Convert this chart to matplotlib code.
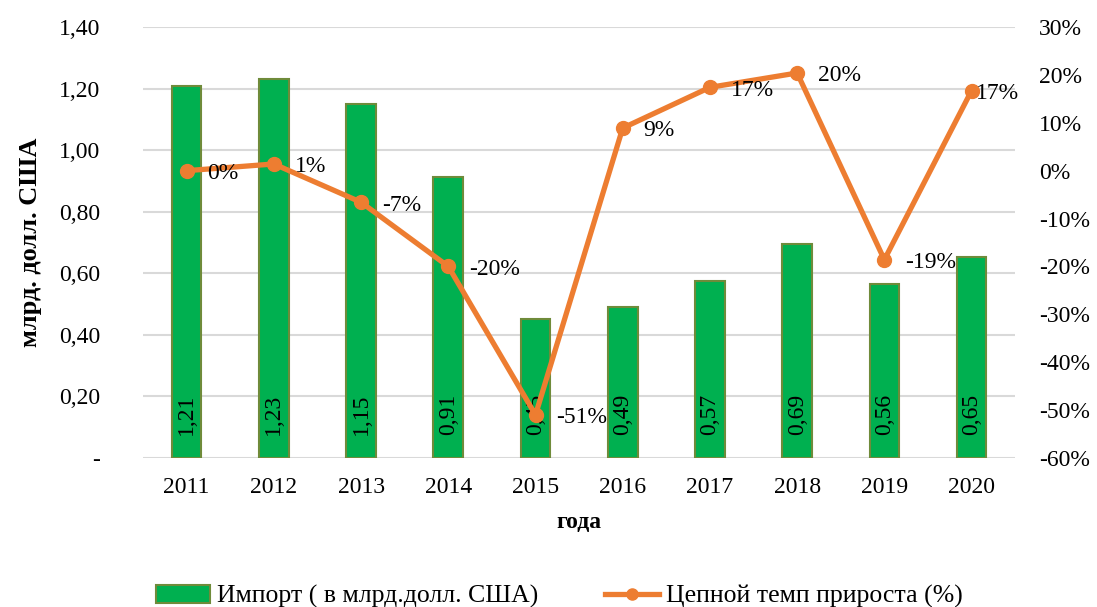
import matplotlib.pyplot as plt
import numpy as np
from matplotlib.patches import Patch
from matplotlib.lines import Line2D
from matplotlib.ticker import FuncFormatter, MultipleLocator

plt.rcParams['font.family'] = ['Liberation Serif', 'DejaVu Serif']

# Data
years = ["2011", "2012", "2013", "2014", "2015", "2016", "2017", "2018", "2019", "2020"]
imports = [1.21, 1.23, 1.15, 0.914, 0.45, 0.49, 0.574, 0.694, 0.564, 0.654]   # млрд. долл. США
growth = [0.0, 1.4, -6.6, -20.0, -51.0, 8.9, 17.4, 20.4, -18.6, 16.7]          # %

bar_color = "#00b050"
bar_edge = "#6f8b3a"
line_color = "#ed7d31"
grid_color = "#d9d9d9"
FS = 17

fig = plt.figure(figsize=(10.97, 6.07), dpi=100)
ax = fig.add_axes([0.1304, 0.2455, 0.795, 0.71])
ax2 = ax.twinx()

x = np.arange(len(years))

# Bars
ax.bar(x, imports, width=0.34, color=bar_color, edgecolor=bar_edge, linewidth=1.5, zorder=2)
for xi, v in zip(x, imports):
    ax.text(xi, 0.075, f"{v:.2f}".replace(".", ","), rotation=90, ha='center', va='bottom',
            fontsize=FS, color='black', zorder=3)

ax.set_ylim(0, 1.40)
ax.set_xlim(-0.5, len(years) - 0.5)
ax.yaxis.set_major_locator(MultipleLocator(0.2))
ax.yaxis.set_major_formatter(FuncFormatter(lambda v, p: "-" if abs(v) < 1e-9 else f"{v:.2f}".replace(".", ",")))
ax.grid(axis='y', color=grid_color, linewidth=1.5, zorder=0)
ax.set_axisbelow(True)
ax.set_xticks(x)
ax.set_xticklabels(years)
ax.tick_params(axis='both', length=0, labelsize=FS)
ax.tick_params(axis='y', pad=31)
ax.tick_params(axis='x', pad=14)
for s in ax.spines.values():
    s.set_visible(False)
ax.set_ylabel("млрд. долл. США", fontsize=19, fontweight='bold', labelpad=12)
ax.set_xlabel("года", fontsize=FS, fontweight='bold', labelpad=10)

# Line on the secondary axis
ax2.plot(x, growth, color=line_color, linewidth=3.8, marker='o', markersize=10, zorder=4)
ax2.set_ylim(-60, 30)
ax2.yaxis.set_major_locator(MultipleLocator(10))
ax2.yaxis.set_major_formatter(FuncFormatter(lambda v, p: f"{v:.0f}%"))
ax2.tick_params(axis='y', length=0, labelsize=FS, pad=17)
for s in ax2.spines.values():
    s.set_visible(False)

for i, (xi, g) in enumerate(zip(x, growth)):
    dx = 3 if i == len(x) - 1 else 15
    ax2.annotate(f"{g:.0f}%", (xi, g), xytext=(dx, -2), textcoords='offset points',
                 ha='left', va='center', fontsize=FS, color='black', zorder=5)

# Legend
handles = [
    Patch(facecolor=bar_color, edgecolor=bar_edge, linewidth=1.5, label="Импорт ( в млрд.долл. США)"),
    Line2D([0], [0], color=line_color, linewidth=3.8, marker='o', markersize=8,
           label="Цепной темп прироста (%)"),
]
fig.legend(handles=handles, loc='lower center', bbox_to_anchor=(0.51, -0.04), ncol=2, frameon=False,
           fontsize=18.5, handlelength=2.1, handletextpad=0.27, columnspacing=2.6)

fig.savefig("out.png", dpi=100)
